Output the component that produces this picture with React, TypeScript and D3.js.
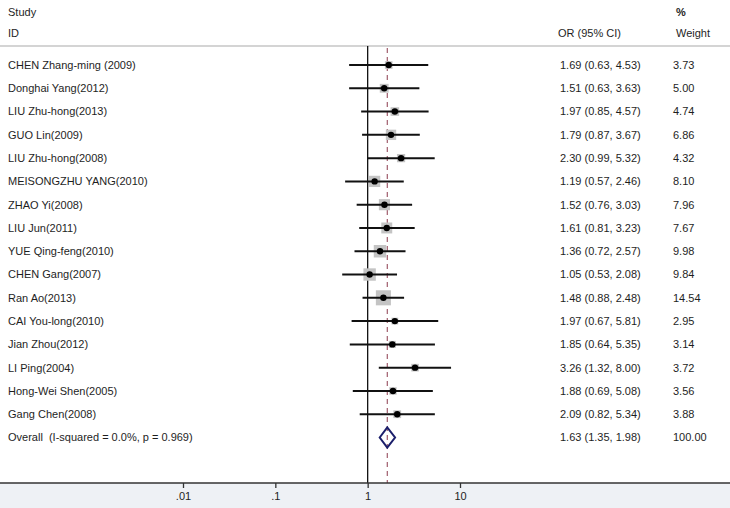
import { useEffect, useRef } from "react";
import * as d3 from "d3";

const studies = [
  "CHEN Zhang-ming (2009)",
  "Donghai Yang(2012)",
  "LIU Zhu-hong(2013)",
  "GUO Lin(2009)",
  "LIU Zhu-hong(2008)",
  "MEISONGZHU YANG(2010)",
  "ZHAO Yi(2008)",
  "LIU Jun(2011)",
  "YUE Qing-feng(2010)",
  "CHEN Gang(2007)",
  "Ran Ao(2013)",
  "CAI You-long(2010)",
  "Jian Zhou(2012)",
  "LI Ping(2004)",
  "Hong-Wei Shen(2005)",
  "Gang Chen(2008)",
];
const oddsRatio = [1.69, 1.51, 1.97, 1.79, 2.3, 1.19, 1.52, 1.61, 1.36, 1.05, 1.48, 1.97, 1.85, 3.26, 1.88, 2.09];
const lower = [0.63, 0.63, 0.85, 0.87, 0.99, 0.57, 0.76, 0.81, 0.72, 0.53, 0.88, 0.67, 0.64, 1.32, 0.69, 0.82];
const upper = [4.53, 3.63, 4.57, 3.67, 5.32, 2.46, 3.03, 3.23, 2.57, 2.08, 2.48, 5.81, 5.35, 8.0, 5.08, 5.34];
const weights = [3.73, 5.0, 4.74, 6.86, 4.32, 8.1, 7.96, 7.67, 9.98, 9.84, 14.54, 2.95, 3.14, 3.72, 3.56, 3.88];

const overallLabel = "Overall  (I-squared = 0.0%, p = 0.969)";
const overall = { or: 1.63, lo: 1.35, hi: 1.98, weight: 100 };

const tickValues = [0.01, 0.1, 1, 10];
const tickLabels = [".01", ".1", "1", "10"];

const W = 730;
const H = 508;

const App = () => {
  const svgRef = useRef<SVGSVGElement | null>(null);

  useEffect(() => {
    const svg = d3.select(svgRef.current);
    svg.selectAll("*").remove();

    const font = "'Liberation Sans', Arial, sans-serif";
    const textColor = "#1e1e1e";
    const axisY = 483;
    const topY = 46;

    const x = d3.scaleLog().domain([0.01, 10]).range([183, 460]);
    const rowIdx = d3.range(studies.length + 1);
    const y = d3.scaleLinear().domain([0, studies.length]).range([65, 437.5]);

    // background below axis
    svg.append("rect").attr("x", 0).attr("y", axisY).attr("width", W).attr("height", H - axisY).attr("fill", "#eef1f5");

    // header
    const header = svg.append("g").style("font-family", font).style("font-size", "11px").attr("fill", textColor);
    header.append("text").attr("x", 8).attr("y", 12).attr("dy", "0.35em").text("Study");
    header.append("text").attr("x", 8).attr("y", 33).attr("dy", "0.35em").text("ID");
    header.append("text").attr("x", 558).attr("y", 33).attr("dy", "0.35em").text("OR (95% CI)");
    header.append("text").attr("x", 676).attr("y", 12).attr("dy", "0.35em").style("font-weight", "bold").text("%");
    header.append("text").attr("x", 676).attr("y", 33).attr("dy", "0.35em").text("Weight");

    svg.append("line").attr("x1", 0).attr("x2", W).attr("y1", topY).attr("y2", topY).attr("stroke", "#d4d4d4").attr("stroke-width", 2);

    // null line and overall line
    svg.append("line").attr("x1", x(1)).attr("x2", x(1)).attr("y1", topY).attr("y2", axisY).attr("stroke", "#111").attr("stroke-width", 1.3);
    svg
      .append("line")
      .attr("x1", x(overall.or))
      .attr("x2", x(overall.or))
      .attr("y1", topY + 2)
      .attr("y2", axisY)
      .attr("stroke", "#8c3b4e")
      .attr("stroke-width", 1)
      .attr("stroke-dasharray", "5,4");

    // study rows
    const rows = svg
      .selectAll(".row")
      .data(d3.range(studies.length))
      .enter()
      .append("g")
      .attr("class", "row");

    rows
      .append("rect")
      .attr("x", (i) => x(oddsRatio[i]) - (3.95 * Math.sqrt(weights[i])) / 2)
      .attr("y", (i) => y(i) - (3.95 * Math.sqrt(weights[i])) / 2)
      .attr("width", (i) => 3.95 * Math.sqrt(weights[i]))
      .attr("height", (i) => 3.95 * Math.sqrt(weights[i]))
      .attr("fill", "#c4c4c4");

    rows
      .append("line")
      .attr("x1", (i) => x(lower[i]))
      .attr("x2", (i) => x(upper[i]))
      .attr("y1", (i) => y(i))
      .attr("y2", (i) => y(i))
      .attr("stroke", "#111")
      .attr("stroke-width", 2);

    rows
      .append("circle")
      .attr("cx", (i) => x(oddsRatio[i]))
      .attr("cy", (i) => y(i))
      .attr("r", 3.2)
      .attr("fill", "#000");

    // overall diamond
    const oy = y(studies.length);
    svg
      .append("path")
      .attr(
        "d",
        `M${x(overall.lo)},${oy}L${x(overall.or)},${oy - 10}L${x(overall.hi)},${oy}L${x(overall.or)},${oy + 10}Z`
      )
      .attr("fill", "none")
      .attr("stroke", "#1b1f6b")
      .attr("stroke-width", 2);

    // text columns
    const labels = [...studies, overallLabel];
    const orText = [
      ...studies.map((_, i) => `${oddsRatio[i].toFixed(2)} (${lower[i].toFixed(2)}, ${upper[i].toFixed(2)})`),
      `${overall.or.toFixed(2)} (${overall.lo.toFixed(2)}, ${overall.hi.toFixed(2)})`,
    ];
    const wText = [...weights.map((w) => w.toFixed(2)), overall.weight.toFixed(2)];

    const txt = svg.append("g").style("font-family", font).style("font-size", "11px").attr("fill", textColor);
    txt
      .selectAll(".lab")
      .data(rowIdx)
      .enter()
      .append("text")
      .attr("x", 8)
      .attr("y", (i) => y(i))
      .attr("dy", "0.35em")
      .style("white-space", "pre")
      .text((i) => labels[i]);
    txt
      .selectAll(".or")
      .data(rowIdx)
      .enter()
      .append("text")
      .attr("x", 560)
      .attr("y", (i) => y(i))
      .attr("dy", "0.35em")
      .text((i) => orText[i]);
    txt
      .selectAll(".w")
      .data(rowIdx)
      .enter()
      .append("text")
      .attr("x", 673)
      .attr("y", (i) => y(i))
      .attr("dy", "0.35em")
      .text((i) => wText[i]);

    // x axis
    svg.append("line").attr("x1", 0).attr("x2", W).attr("y1", axisY).attr("y2", axisY).attr("stroke", "#333").attr("stroke-width", 1.3);
    const axis = svg
      .append("g")
      .attr("transform", `translate(0,${axisY})`)
      .call(
        d3
          .axisBottom(x)
          .tickValues(tickValues)
          .tickSize(5)
          .tickFormat((_, i) => tickLabels[i])
      );
    axis.select(".domain").remove();
    axis.selectAll(".tick line").attr("stroke", "#333").attr("stroke-width", 1.3);
    axis
      .selectAll(".tick text")
      .attr("fill", textColor)
      .style("font-family", font)
      .style("font-size", "11px")
      .attr("y", 9);
  }, []);

  return (
    <div style={{ position: "absolute", left: 0, top: 0 }}>
      <svg ref={svgRef} width={W} height={H} style={{ display: "block", background: "#fff" }}></svg>
    </div>
  );
};

export default App;
